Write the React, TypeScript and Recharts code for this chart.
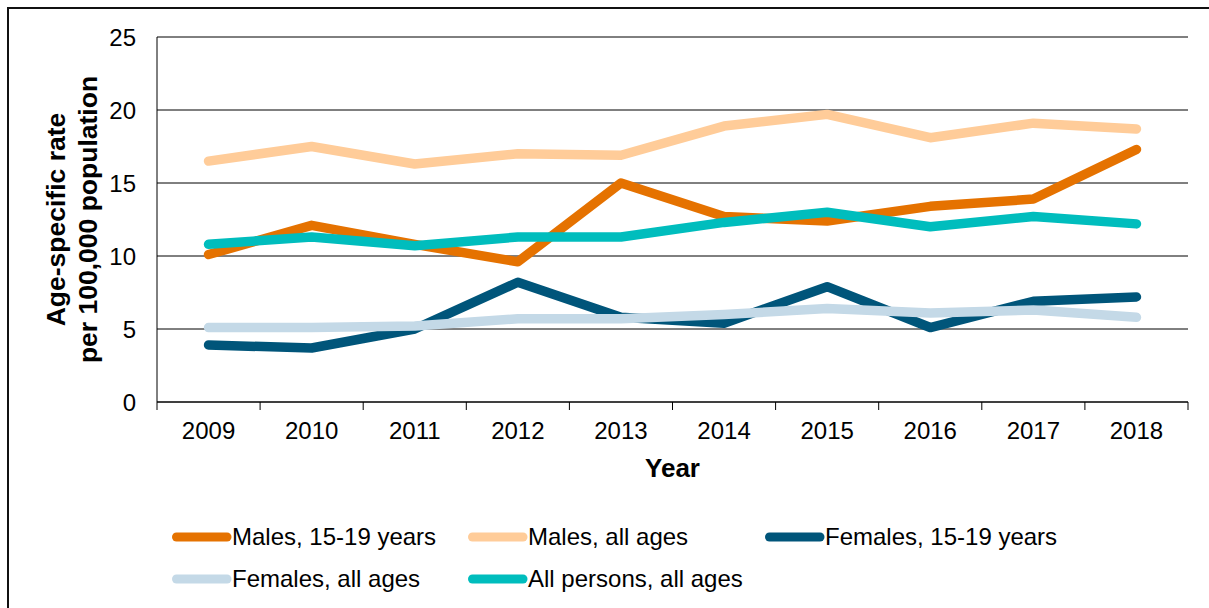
import React from 'react';
import { LineChart, Line, XAxis, YAxis, CartesianGrid, Legend } from 'recharts';

const years = ['2009', '2010', '2011', '2012', '2013', '2014', '2015', '2016', '2017', '2018'];
const males1519 = [10.1, 12.1, 10.8, 9.6, 15.0, 12.7, 12.4, 13.4, 13.9, 17.3];
const malesAll = [16.5, 17.5, 16.3, 17.0, 16.9, 18.9, 19.7, 18.1, 19.1, 18.7];
const females1519 = [3.9, 3.7, 5.0, 8.2, 5.8, 5.4, 7.9, 5.1, 6.9, 7.2];
const femalesAll = [5.1, 5.1, 5.2, 5.7, 5.7, 6.0, 6.4, 6.1, 6.3, 5.8];
const allPersons = [10.8, 11.3, 10.7, 11.3, 11.3, 12.3, 13.0, 12.0, 12.7, 12.2];
const yTicks = [0, 5, 10, 15, 20, 25];

const seriesNames = ['Males, 15-19 years', 'Males, all ages', 'Females, 15-19 years', 'Females, all ages', 'All persons, all ages'];
const seriesKeys = ['m1519', 'mAll', 'f1519', 'fAll', 'all'];
const seriesColors = ['#E57200', '#FFCC99', '#00557A', '#C4D9E7', '#00BDBD'];

const data = years.map((year, i) => ({
  year,
  m1519: males1519[i],
  mAll: malesAll[i],
  f1519: females1519[i],
  fAll: femalesAll[i],
  all: allPersons[i],
}));

const FONT = '"Liberation Sans", Arial, sans-serif';
const W = 1209;
const H = 608;
const M_TOP = 37;
const M_RIGHT = 21;
const Y_W = 157;
const PLOT_W = W - Y_W - M_RIGHT;
const HALF_BAND = PLOT_W / years.length / 2;
const X_MARGIN = 20;

const XTick = (props: any) => {
  const { x, y, payload, index } = props;
  const axisY = y - X_MARGIN;
  const last = index === years.length - 1;
  return (
    <g>
      <line x1={x - HALF_BAND} x2={x - HALF_BAND} y1={axisY} y2={axisY + 8} stroke="#000" strokeWidth={1} />
      {last && <line x1={x + HALF_BAND} x2={x + HALF_BAND} y1={axisY} y2={axisY + 8} stroke="#000" strokeWidth={1} />}
      <text x={x} y={y} dy="0.71em" textAnchor="middle" fontSize={24} fontFamily={FONT} fill="#000">
        {payload.value}
      </text>
    </g>
  );
};

const YTick = (props: any) => {
  const { x, y, payload } = props;
  return (
    <text x={x} y={y} dy="0.355em" textAnchor="end" fontSize={24} fontFamily={FONT} fill="#000">
      {payload.value}
    </text>
  );
};

const YTitle = (props: any) => {
  const vb = props.viewBox || {};
  const cy = (vb.y ?? M_TOP) + (vb.height ?? 365) / 2;
  return (
    <g fontFamily={FONT} fontWeight="bold" fontSize={26.5} fill="#000">
      <text x={65} y={cy} textAnchor="middle" transform={`rotate(-90, 65, ${cy})`}>Age-specific rate</text>
      <text x={96.5} y={cy} textAnchor="middle" transform={`rotate(-90, 96.5, ${cy})`}>per 100,000 population</text>
    </g>
  );
};

const XTitle = (props: any) => {
  const vb = props.viewBox || {};
  const cx = (vb.x ?? Y_W) + (vb.width ?? PLOT_W) / 2;
  const top = vb.y ?? 402;
  return (
    <text x={cx} y={top + 74.5} textAnchor="middle" fontFamily={FONT} fontWeight="bold" fontSize={26} fill="#000">
      Year
    </text>
  );
};

const LegendContent = () => {
  const cols = [172, 468, 765];
  const rows = [0, 42];
  return (
    <div style={{ position: 'relative', width: W, height: 0 }}>
      {seriesNames.map((name, i) => {
        const col = cols[i % 3];
        const row = rows[Math.floor(i / 3)];
        return (
          <div
            key={name}
            style={{
              position: 'absolute',
              left: col - 5,
              top: row,
              height: 30,
              display: 'flex',
              alignItems: 'center',
              whiteSpace: 'nowrap',
              fontFamily: FONT,
              fontSize: 24,
              color: '#000',
            }}
          >
            <svg width={66} height={30} style={{ display: 'block' }}>
              <line x1={9.5} x2={60} y1={15} y2={15} stroke={seriesColors[i]} strokeWidth={9} strokeLinecap="round" />
            </svg>
            <span style={{ marginLeft: -1 }}>{name}</span>
          </div>
        );
      })}
    </div>
  );
};

export default function App() {
  return (
    <div style={{ position: 'fixed', left: 0, top: 0, width: W, height: H, overflow: 'hidden', background: '#fff' }}>
      <div
        style={{
          position: 'absolute',
          left: 7,
          top: 7,
          width: 1400,
          height: 800,
          borderTop: '2px solid #111',
          borderLeft: '2px solid #111',
          pointerEvents: 'none',
        }}
      />
      <div style={{ position: 'absolute', left: 0, top: 0 }}>
        <LineChart width={W} height={H} data={data} margin={{ top: M_TOP, right: M_RIGHT, left: 0, bottom: 0 }}>
          <CartesianGrid vertical={false} stroke="#000" strokeWidth={1} strokeDasharray="" />
          <XAxis
            dataKey="year"
            height={206}
            padding={{ left: HALF_BAND, right: HALF_BAND }}
            axisLine={{ stroke: '#000', strokeWidth: 1 }}
            tickLine={false}
            tickSize={0}
            tickMargin={X_MARGIN}
            tick={<XTick />}
            interval={0}
            label={<XTitle />}
          />
          <YAxis
            width={Y_W}
            domain={[0, 25]}
            ticks={yTicks}
            interval={0}
            axisLine={{ stroke: '#000', strokeWidth: 1 }}
            tickLine={false}
            tickSize={0}
            tickMargin={21}
            tick={<YTick />}
            label={<YTitle />}
          />
          <Legend
            content={<LegendContent />}
            wrapperStyle={{ position: 'absolute', left: 0, top: 522, width: W, height: 0, overflow: 'visible' }}
          />
          {seriesKeys.map((k, i) => (
            <Line
              key={k}
              type="linear"
              dataKey={k}
              name={seriesNames[i]}
              stroke={seriesColors[i]}
              strokeWidth={9.5}
              strokeLinecap="round"
              strokeLinejoin="round"
              dot={false}
              activeDot={false}
              isAnimationActive={false}
            />
          ))}
        </LineChart>
      </div>
    </div>
  );
}
